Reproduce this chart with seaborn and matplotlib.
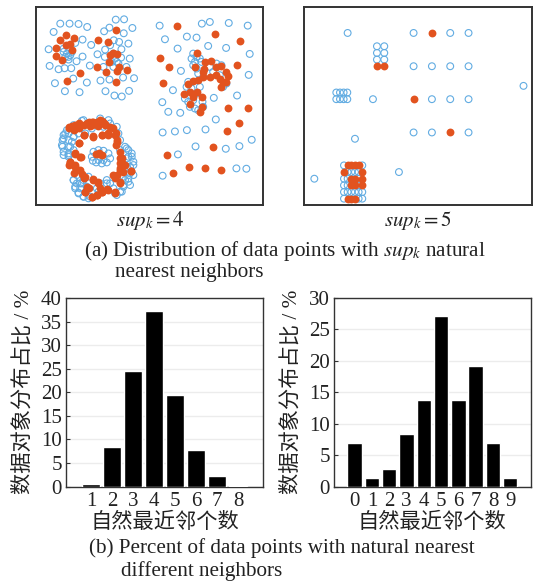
import matplotlib
matplotlib.use("Agg")
import matplotlib.pyplot as plt
import seaborn as sns
import pandas as pd

sns.set_theme(style="white")
plt.rcParams['font.family'] = ['Liberation Serif', 'Noto Sans CJK SC', 'DejaVu Sans']
plt.rcParams['mathtext.fontset'] = 'stix'

# Panel sup_k = 4
blue4 = [(120,70),(148,70),(175,71),(201,80),(100,95),(187,118),(85,147),(213,134),(88,197),(115,207),(133,204),(153,204),(169,183),(187,169),(209,196),(232,162),(104,249),(134,273),(178,276),(159,235),(200,247),(241,241),(268,238),(256,273),(283,286),(305,289),(327,272),(309,232),(342,234),(319,200),(287,58),(312,57),(337,83),(311,99),(268,82),(252,93),(255,148),(281,120),(297,125),(325,130),(254,170),(304,147),(329,175),(303,172),(250,200),(280,200),(130,145),(165,128),(130,155),(140,160),(145,170),(150,165),(135,170),(145,178),(155,155),(280,160),(285,175),(275,185),(290,185),(270,135),(295,190),
(419,76),(546,70),(570,65),(627,68),(684,76),(435,117),(501,109),(530,112),(473,145),(565,137),(619,143),(690,161),(483,212),(687,224),(459,270),(427,306),(445,335),(481,338),(582,293),(652,286),(588,358),
(520,160),(530,170),(515,175),(540,175),(525,185),(545,185),(520,195),(530,205),(535,220),(590,190),(605,195),(570,200),(580,215),(600,225),(620,250),(610,260),(505,245),(500,260),(495,295),(505,305),(520,300),(510,320),(525,325),(535,330),(550,320),(548,305),(530,280),(515,265),(540,260),(550,230),
(428,397),(465,394),(501,390),(557,388),(527,439),(618,446),(659,438),(696,419),(474,463),(428,527),(650,505),(680,506),
(215,470),(220,455),(235,450),(250,452),(265,460),(270,475),(260,487),(245,490),(228,487),(218,482),(240,470),(235,480),(250,480),
(185,362),(160,375),(140,390),(130,405),(127,420),(127,440),(130,465),(145,470),(145,420),(150,440),(160,410),(160,450),(175,400),(170,385),(265,360),(290,380),(300,420),(315,440),(325,450),(335,470),(340,495),(330,520),(325,545),(310,555),(300,575),(285,580),(270,550),(160,540),(165,565),(175,578),(190,590),(210,590),(180,550),(190,540),(205,530),(170,525),(145,460),(300,450),(320,475),(320,500),(310,530),(195,400),(215,385),(250,380),(275,400),(260,540),(240,550),(200,560),(235,575),
(130,415),(125,435),(130,455),(145,400),(155,425),(145,440),(145,465),(160,410),(135,400),(160,540),(165,560),(175,580),(190,590),(205,595),(170,550),(185,550),(180,565),(320,445),(335,460),(340,485),(325,470),(330,500),(340,525),(325,535),(330,555),(310,560),(305,575),(280,565),(290,585),(315,540),(260,550),(230,565),(190,360),(240,355),(270,370),(295,400)]
orange4 = [(138,104),(119,118),(161,113),(108,143),(137,133),(150,130),(155,150),(108,168),(126,180),(178,218),(139,241),(289,90),(235,120),(265,126),(280,157),(270,165),(267,186),(232,199),(297,200),(290,213),(258,215),(320,210),(287,246),(290,160),
(472,76),(587,100),(662,123),(420,174),(447,199),(429,247),(651,193),(532,157),(624,324),(684,324),(658,370),(540,337),(622,392),
(555,185),(575,183),(590,200),(605,197),(552,205),(550,215),(620,215),(625,228),(550,230),(535,240),(520,243),(505,250),(570,230),(590,225),(600,235),(610,245),(620,245),(605,260),(525,200),(493,280),(510,275),(530,275),(545,290),(510,310),(520,290),(545,320),
(579,442),(441,466),(460,518),(508,502),(556,505),(605,509),
(228,462),(238,462),(246,465),
(145,380),(165,378),(175,370),(160,390),(190,375),(205,365),(220,365),(240,360),(250,365),(215,375),(235,375),(255,375),(270,380),(190,405),(220,410),(245,405),(265,405),(285,405),(290,425),(175,430),(165,462),(183,470),(150,485),(165,500),(160,520),(180,510),(195,530),(220,540),(235,550),(300,455),(305,475),(300,490),(315,495),(300,510),(332,513),(290,525),(300,550),(205,565),(195,575),(215,590),(230,585),(245,575),(265,570),(285,578),(240,565),
(145,385),(155,378),(165,375),(175,385),(200,370),(215,365),(230,365),(245,362),(255,372),(235,378),(210,378),(190,405),(220,408),(245,405),(265,400),(280,385),(288,400),(292,420),(288,435),(175,430),(165,458),(178,470),(150,485),(165,495),(145,495),(170,510),(185,522),(190,535),(220,538),(235,545),(300,475),(305,490),(300,505),(310,515),(332,513),(285,535),(300,545),(278,525),(200,562),(195,575),(215,590),(230,585),(245,575),(260,568),(285,575),(238,460)]

# Panel sup_k = 5
blue5 = [(203,98),(401,98),(511,98),(566,98),(291,138),(313,138),(291,158),(313,158),(291,178),(313,178),(401,198),(456,198),(511,198),(566,198),(731,257),(169,277),(180,277),(191,277),(202,277),(169,297),(180,297),(191,297),(202,297),(279,297),(456,297),(511,297),(566,297),(401,397),(456,397),(566,397),(225,416),(357,516),(103,536),
(192,496),(247,496),(203,516),(214,516),(225,516),(236,516),(192,536),(203,536),(236,536),(192,556),(203,556),(236,556),(192,576),(203,576),(214,576),(225,576),(236,576),(247,576),(192,596),(236,596),(247,596)]
orange5 = [(456,98),(291,198),(313,198),(401,297),(511,397),(203,496),(214,496),(225,496),(236,496),(192,516),(247,516),(214,536),(225,536),(247,536),(214,556),(225,556),(247,556),(203,596),(214,596),(225,596)]

# Bars
left_cats = ["1","2","3","4","5","6","7","8"]
left_vals = [0.5,8.3,24.6,37.3,19.4,7.8,2.3,0.2]
right_cats = ["0","1","2","3","4","5","6","7","8","9"]
right_vals = [6.9,1.4,2.8,8.3,13.7,27.2,13.7,19.1,6.9,1.4]

W, H = 536, 584
BLUE = "#62ace2"
ORANGE = "#e2531f"
SPINE = "#333333"
TXT = "#222222"
fig = plt.figure(figsize=(W/100, H/100), dpi=100, facecolor="white")

def axpx(x0, y0, x1, y1):
    return fig.add_axes([x0/W, 1-y1/H, (x1-x0)/W, (y1-y0)/H])

def scatter(ax, blue, orange, xlim, ylim):
    b = pd.DataFrame(blue, columns=["x","y"])
    o = pd.DataFrame(orange, columns=["x","y"])
    sns.scatterplot(data=b, x="x", y="y", ax=ax, marker="o", s=24, facecolors="none",
                    edgecolor=BLUE, linewidth=0.8)
    sns.scatterplot(data=o, x="x", y="y", ax=ax, marker="o", s=32, color=ORANGE, linewidth=0)
    ax.set_xlim(*xlim); ax.set_ylim(*ylim)
    ax.set_xticks([]); ax.set_yticks([])
    ax.set_xlabel(""); ax.set_ylabel("")
    for s in ax.spines.values():
        s.set_visible(True); s.set_color(SPINE); s.set_linewidth(1.4)

a1 = axpx(36, 7, 263, 205)
scatter(a1, blue4, orange4, (47,730), (615,20))
a2 = axpx(304, 7, 531.5, 205)
scatter(a2, blue5, orange5, (72,755), (615,20))

def bars(ax, cats, vals, ymax, step, xlim):
    df = pd.DataFrame({"c":cats,"v":vals})
    sns.barplot(data=df, x="c", y="v", ax=ax, color="black", width=0.83, saturation=1, zorder=3)
    ax.set_xlim(*xlim); ax.set_ylim(0, ymax)
    ax.set_yticks(list(range(0, ymax+1, step)))
    ax.grid(axis="y", color="#ececec", linewidth=1, zorder=0)
    ax.set_axisbelow(True)
    ax.tick_params(axis="y", direction="in", length=3, width=0.8, color=SPINE, pad=3, labelsize=15, labelcolor=TXT, left=True)
    ax.tick_params(axis="x", length=0, pad=4, labelsize=15, labelcolor=TXT)
    ax.set_xlabel("自然最近邻个数", fontsize=15.3, color=TXT, labelpad=1)
    ax.set_ylabel("数据对象分布占比 / %", fontsize=15.3, color=TXT, labelpad=5)
    for s in ax.spines.values():
        s.set_visible(True); s.set_color(SPINE); s.set_linewidth(1.0)

b1 = axpx(66, 298, 263, 486.5)
bars(b1, left_cats, left_vals, 40, 5, (-1.2, 8.19))
b2 = axpx(334, 298, 530.5, 486.5)
bars(b2, right_cats, right_vals, 30, 5, (-1.19, 10.17))

def txt(x, y, s, ha="left", size=15.2):
    fig.text(x/W, 1-y/H, s, ha=ha, va="center", fontsize=size, color=TXT)

txt(150, 221, r"$\mathit{sup}_k = 4$", ha="center", size=15)
txt(418, 221, r"$\mathit{sup}_k = 5$", ha="center", size=15)
txt(84, 251, r"(a) Distribution of data points with $\mathit{sup}_k$ natural")
txt(115, 273, "nearest neighbors")
txt(89, 548, "(b) Percent of data points with natural nearest")
txt(121, 571, "different neighbors")

fig.savefig("out.png", dpi=100, facecolor="white")
